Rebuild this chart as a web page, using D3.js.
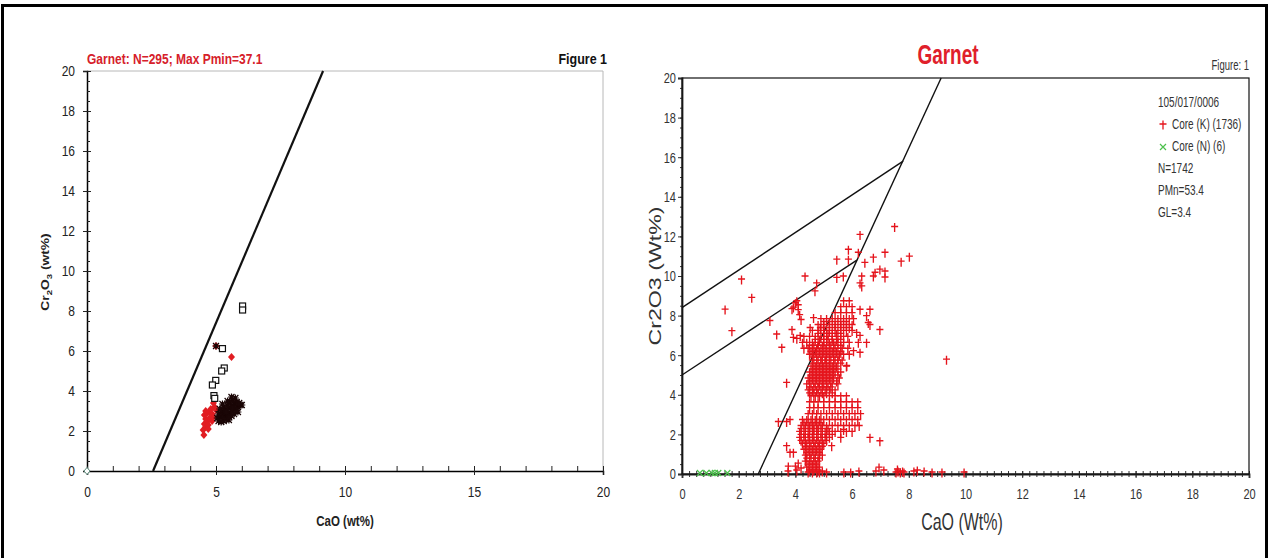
<!DOCTYPE html>
<html>
<head>
<meta charset="utf-8">
<script src="https://cdn.jsdelivr.net/npm/d3@7"></script>
<style>
body { margin: 0; background: #fff; }
svg { display: block; font-family: "Liberation Sans", Arial, sans-serif; }
</style>
</head>
<body>
<div id="chart"></div>
<script>
var width = 1270;
var height = 558;

// ---- left figure data ----
var leftTitle = 'Garnet: N=295; Max Pmin=37.1';
var leftLine = [[2.56, 0], [9.15, 20]];
var leftSquares = [[6.03, 8.25], [6.03, 8.05], [5.25, 6.12], [5.32, 5.15], [5.22, 5.0],
    [4.99, 4.53], [4.86, 4.3], [4.92, 3.77], [4.95, 3.63]];
var leftRed = [[4.53, 1.8], [4.5, 2.05], [4.6, 2.2], [4.55, 2.35], [4.65, 2.45], [4.7, 2.3],
    [4.6, 2.6], [4.75, 2.65], [4.55, 2.8], [4.65, 2.9], [4.75, 2.95], [4.85, 2.85], [4.8, 3.1],
    [4.95, 3.2], [4.9, 3.4], [5.0, 3.05], [4.85, 2.5], [4.9, 2.7], [4.7, 2.1], [4.6, 3.0],
    [5.6, 5.7], [5.0, 6.25]];
var leftBlack = [[5.1, 2.5], [5.2, 2.45], [5.3, 2.5], [5.4, 2.6], [5.5, 2.55], [5.15, 2.7],
    [5.25, 2.75], [5.35, 2.8], [5.45, 2.85], [5.55, 2.9], [5.65, 3.0], [5.75, 3.1], [5.85, 3.2],
    [5.95, 3.3], [5.2, 2.95], [5.3, 3.0], [5.4, 3.05], [5.5, 3.15], [5.6, 3.25], [5.7, 3.35],
    [5.8, 3.45], [5.3, 3.2], [5.45, 3.3], [5.55, 3.45], [5.65, 3.55], [5.75, 3.65], [5.6, 3.7],
    [5.1, 2.85], [5.05, 2.65], [5.35, 2.6], [5.6, 2.75], [5.7, 2.85], [5.85, 2.95], [6.0, 3.3],
    [5.9, 3.4], [5.45, 3.5], [5.25, 3.35], [5.15, 3.1], [5.5, 2.7], [5.65, 3.15], [5.4, 2.95],
    [5.8, 3.05], [5.0, 6.25]];
var leftGreen = [[0, 0]];

// ---- right figure data ----
var rightLines = [
    [[2.69, 0], [9.14, 20]],
    [[0, 8.4], [7.8, 15.8]],
    [[0, 5.0], [6.17, 10.8]]
];
var coreKScatter = [[7.5, 12.45], [6.28, 12.05], [5.87, 11.3], [6.22, 11.15], [5.46, 10.8],
    [5.87, 10.8], [6.75, 10.9], [7.16, 11.15], [8.02, 10.95], [7.73, 10.7], [7.16, 10.2],
    [6.98, 10.3], [7.16, 9.9], [6.75, 9.95], [6.34, 9.95], [6.28, 9.6], [6.34, 9.45], [5.69, 9.95],
    [5.46, 9.88], [4.34, 9.95], [4.75, 9.6], [4.69, 9.2], [2.1, 9.8], [2.46, 8.87], [1.52, 8.28],
    [1.76, 7.19], [3.1, 7.7], [3.34, 7.02], [3.52, 6.35], [3.69, 4.58], [3.93, 6.85], [4.05, 8.7],
    [4.1, 8.5], [4.1, 8.25], [4.15, 8.0], [4.2, 7.75], [4.0, 8.6], [3.88, 8.3], [3.93, 8.38],
    [4.64, 7.85], [4.88, 7.35], [4.52, 7.35], [3.88, 7.25], [4.17, 6.95], [4.05, 6.8],
    [6.45, 10.64], [6.81, 10.14], [6.28, 8.27], [6.63, 8.27], [6.51, 7.95], [6.57, 7.6],
    [6.63, 7.5], [6.98, 7.25], [6.16, 7.1], [6.28, 6.95], [6.22, 6.6], [6.51, 6.6], [6.28, 6.1],
    [6.05, 6.18], [5.81, 5.43], [9.33, 5.75], [6.63, 1.8], [6.98, 1.63], [5.28, 1.38], [5.7, 2.2],
    [3.4, 2.6], [3.69, 2.6], [3.81, 2.7], [3.69, 1.38], [3.81, 1.05], [3.93, 1.05], [3.75, 0.35],
    [4.0, 0.35], [4.1, 0.5], [3.74, 0.1], [4.05, 0.15], [4.2, 0.25], [4.95, 0.1], [5.1, 0.05],
    [5.71, 0.05], [5.95, 0.05], [6.24, 0.1], [6.84, 0.1], [6.95, 0.3], [7.12, 0.15], [7.55, 0.05],
    [7.62, 0.1], [7.7, 0.05], [7.78, 0.1], [7.83, 0.05], [7.6, 0.2], [8.18, 0.1], [8.3, 0.15],
    [8.54, 0.1], [8.82, 0.05], [9.17, 0.05], [9.95, 0.05]];
// dense core: [Cr2O3, [CaO values]]
var coreKRows = [
    [0.05, [4.45, 4.6, 4.75, 4.85]],
    [0.15, [4.5, 4.65, 4.8]],
    [0.3, [4.4, 4.55, 4.7, 4.85]],
    [0.45, [4.45, 4.6, 4.75]],
    [0.6, [4.35, 4.5, 4.65, 4.8]],
    [0.75, [4.4, 4.55, 4.7, 4.85]],
    [0.9, [4.35, 4.5, 4.65, 4.8, 4.95]],
    [1.05, [4.4, 4.55, 4.7, 4.85]],
    [1.2, [4.3, 4.45, 4.6, 4.75, 4.9]],
    [1.35, [4.35, 4.5, 4.65, 4.8, 4.95]],
    [1.5, [4.25, 4.4, 4.55, 4.7, 4.85, 5.0]],
    [1.65, [4.2, 4.35, 4.5, 4.65, 4.8, 4.95, 5.1]],
    [1.8, [4.15, 4.3, 4.45, 4.6, 4.75, 4.9, 5.05, 5.2, 5.6]],
    [1.95, [4.2, 4.35, 4.5, 4.65, 4.8, 4.95, 5.1, 5.3]],
    [2.1, [4.15, 4.3, 4.45, 4.6, 4.75, 4.9, 5.05, 5.2, 5.4, 5.6, 5.8, 6.0]],
    [2.25, [4.2, 4.35, 4.5, 4.65, 4.8, 4.95, 5.15]],
    [2.4, [4.2, 4.35, 4.5, 4.65, 4.8, 4.95, 5.1, 5.3, 5.5, 5.7, 5.9, 6.1, 6.25]],
    [2.55, [4.3, 4.45, 4.6, 4.75, 4.9]],
    [2.7, [4.25, 4.4, 4.55, 4.7, 4.85, 5.0, 5.2, 5.4, 5.6, 5.8, 6.0, 6.2]],
    [3.0, [4.45, 4.6, 4.75, 4.9, 5.1, 5.3, 5.5, 5.7, 5.9, 6.1, 6.3]],
    [3.3, [4.5, 4.65, 4.8, 5.0, 5.2, 5.4, 5.6, 5.8, 6.0, 6.2]],
    [3.6, [4.5, 4.65, 4.8, 5.0, 5.2, 5.4, 5.6, 5.8, 6.0, 6.2]],
    [3.9, [4.55, 4.7, 4.85, 5.0, 5.2, 5.4, 5.6, 5.8]],
    [4.05, [4.5, 4.65, 4.8, 4.95, 5.1, 5.3]],
    [4.2, [4.45, 4.6, 4.75, 4.9, 5.05, 5.2, 5.4]],
    [4.35, [4.5, 4.65, 4.8, 4.95, 5.1, 5.25]],
    [4.5, [4.4, 4.55, 4.7, 4.85, 5.0, 5.15, 5.3, 5.5]],
    [4.65, [4.5, 4.65, 4.8, 4.95, 5.1, 5.25, 5.45]],
    [4.8, [4.45, 4.6, 4.75, 4.9, 5.05, 5.2, 5.35, 5.55]],
    [4.95, [4.55, 4.7, 4.85, 5.0, 5.15, 5.3, 5.5]],
    [5.1, [4.5, 4.65, 4.8, 4.95, 5.1, 5.25, 5.4, 5.6]],
    [5.25, [4.6, 4.75, 4.9, 5.05, 5.2, 5.35, 5.5]],
    [5.4, [4.55, 4.7, 4.85, 5.0, 5.15, 5.3, 5.45, 5.8]],
    [5.55, [4.65, 4.8, 4.95, 5.1, 5.25, 5.4, 5.6]],
    [5.7, [4.6, 4.75, 4.9, 5.05, 5.2, 5.35, 5.5, 5.65]],
    [5.85, [4.6, 4.75, 4.9, 5.05, 5.2, 5.35, 5.5]],
    [6.0, [4.5, 4.65, 4.8, 4.95, 5.1, 5.25, 5.4, 5.55, 5.7, 5.9]],
    [6.15, [4.55, 4.7, 4.85, 5.0, 5.15, 5.3, 5.45, 5.6]],
    [6.3, [4.3, 4.45, 4.6, 4.75, 4.9, 5.05, 5.2, 5.35, 5.5, 5.65, 5.85]],
    [6.45, [4.5, 4.65, 4.8, 4.95, 5.1, 5.25, 5.4, 5.6]],
    [6.6, [4.25, 4.4, 4.6, 4.8, 5.0, 5.2, 5.35, 5.5, 5.7, 5.9]],
    [6.75, [4.7, 4.85, 5.0, 5.15, 5.3, 5.45, 5.6]],
    [6.9, [4.3, 4.5, 4.7, 4.9, 5.1, 5.3, 5.5, 5.7, 5.85]],
    [7.05, [4.8, 5.0, 5.15, 5.3, 5.45, 5.6]],
    [7.2, [4.6, 4.8, 5.0, 5.2, 5.4, 5.6, 5.8, 6.0]],
    [7.35, [4.9, 5.1, 5.3, 5.5, 5.7, 5.9]],
    [7.5, [4.8, 5.0, 5.2, 5.4, 5.6, 5.8, 6.0]],
    [7.65, [5.0, 5.2, 5.4, 5.6, 5.8]],
    [7.8, [4.9, 5.1, 5.3, 5.5, 5.7, 5.9, 6.05]],
    [8.1, [5.4, 5.6, 5.8, 6.0]],
    [8.4, [5.6, 5.8, 6.0]],
    [8.7, [5.7, 5.9]]
];
var coreN = [[0.63, 0.05], [0.86, 0.05], [1.05, 0.05], [1.16, 0.05], [1.28, 0.05], [1.6, 0.05]];
var legendTexts = ['105/017/0006', 'Core (K) (1736)', 'Core (N) (6)', 'N=1742', 'PMn=53.4', 'GL=3.4'];

var coreK = coreKScatter.concat(coreKRows.flatMap(r => r[1].map(c => [c, r[0]])));

var svg = d3.select('#chart').append('svg')
    .attr('width', width)
    .attr('height', height);

// outer frame
svg.append('rect')
    .attr('x', 2.5).attr('y', 5.5)
    .attr('width', 1264).attr('height', 620)
    .attr('fill', 'none').attr('stroke', '#000').attr('stroke-width', 3);

// stretch texts vertically (the source image is squashed horizontally)
var stretch = (sel, s) => {
    sel.each(function () {
        var t = d3.select(this);
        var x = +t.attr('x') || 0, y = +t.attr('y') || 0;
        t.attr('x', null).attr('y', null)
            .attr('transform', 'translate(' + x + ',' + y + ') scale(1,' + s + ')');
    });
};

// ================= LEFT FIGURE =================
var xL = d3.scaleLinear().domain([0, 20]).range([87, 603]);
var yL = d3.scaleLinear().domain([0, 20]).range([471, 71]);
var left = svg.append('g');

left.append('path')
    .attr('d', 'M' + xL(0) + ',' + yL(20) + 'H' + xL(20) + 'V' + yL(0))
    .attr('fill', 'none').attr('stroke', '#b8b8b8').attr('stroke-width', 1);

// y axis
var gLy = left.append('g').attr('transform', 'translate(' + xL(0) + ',0)')
    .call(d3.axisLeft(yL).tickValues(d3.range(0, 21, 2)).tickSize(4).tickPadding(8));
gLy.selectAll('.tick line').attr('x1', 4);
left.append('g').attr('transform', 'translate(' + xL(0) + ',0)')
    .call(d3.axisRight(yL).tickValues(d3.range(0, 20.01, 0.5)).tickSize(3).tickFormat(''))
    .select('.domain').remove();

// x axis
var gLx = left.append('g').attr('transform', 'translate(0,' + yL(0) + ')')
    .call(d3.axisBottom(xL).tickValues([0, 5, 10, 15, 20]).tickSize(4).tickPadding(12));
gLx.selectAll('.tick line').attr('y1', -4);
left.append('g').attr('transform', 'translate(0,' + yL(0) + ')')
    .call(d3.axisTop(xL).tickValues(d3.range(0, 20.01, 1)).tickSize(5).tickFormat(''))
    .select('.domain').remove();

left.selectAll('.domain').attr('stroke', '#000').attr('stroke-width', 1.5);
left.selectAll('.tick line').attr('stroke', '#222');
left.selectAll('.tick text').attr('font-size', 12).attr('fill', '#222')
    .attr('font-family', '"Liberation Sans", Arial, sans-serif');
stretch(left.selectAll('.tick text'), 1.2);

// reference line
left.append('line')
    .attr('x1', xL(leftLine[0][0])).attr('y1', yL(leftLine[0][1]))
    .attr('x2', xL(leftLine[1][0])).attr('y2', yL(leftLine[1][1]))
    .attr('stroke', '#111').attr('stroke-width', 2.2);

// points
left.selectAll('.red')
    .data(leftRed).enter().append('path')
    .attr('class', 'red')
    .attr('d', 'M0,-4L3.5,0L0,4L-3.5,0Z')
    .attr('transform', d => 'translate(' + xL(d[0]) + ',' + yL(d[1]) + ')')
    .attr('fill', '#e11d22');
left.selectAll('.black')
    .data(leftBlack).enter().append('path')
    .attr('class', 'black')
    .attr('d', 'M-3,-3L3,3M-3,3L3,-3M-3.5,0H3.5M0,-3.5V3.5')
    .attr('transform', d => 'translate(' + xL(d[0]) + ',' + yL(d[1]) + ')')
    .attr('stroke', '#1a0606').attr('stroke-width', 1.2);
left.selectAll('.sq')
    .data(leftSquares).enter().append('rect')
    .attr('class', 'sq')
    .attr('x', d => xL(d[0]) - 3).attr('y', d => yL(d[1]) - 3)
    .attr('width', 6).attr('height', 6)
    .attr('fill', '#fff').attr('stroke', '#111').attr('stroke-width', 1.2);
left.selectAll('.gr')
    .data(leftGreen).enter().append('path')
    .attr('class', 'gr')
    .attr('d', 'M0,-3.5L3,0L0,3.5L-3,0Z')
    .attr('transform', d => 'translate(' + xL(d[0]) + ',' + yL(d[1]) + ')')
    .attr('fill', '#fff').attr('stroke', '#5a8a7a').attr('stroke-width', 1);

// texts
var lt = left.append('g');
lt.append('text').attr('x', 87).attr('y', 64)
    .attr('font-size', 12).attr('font-weight', 'bold').attr('fill', '#d6202a')
    .text(leftTitle);
lt.append('text').attr('x', 607).attr('y', 64).attr('text-anchor', 'end')
    .attr('font-size', 12.5).attr('font-weight', 'bold').attr('fill', '#111')
    .text('Figure 1');
lt.append('text').attr('x', 345).attr('y', 526).attr('text-anchor', 'middle')
    .attr('font-size', 11.5).attr('font-weight', 'bold').attr('fill', '#222')
    .text('CaO (wt%)');
stretch(lt.selectAll('text'), 1.2);

var yLab = left.append('text')
    .attr('transform', 'translate(49,272) scale(1,1.2) rotate(-90)')
    .attr('text-anchor', 'middle')
    .attr('font-size', 11.5).attr('font-weight', 'bold').attr('fill', '#222');
yLab.append('tspan').text('Cr');
yLab.append('tspan').attr('font-size', 8).attr('dy', 3).text('2');
yLab.append('tspan').attr('dy', -3).text('O');
yLab.append('tspan').attr('font-size', 8).attr('dy', 3).text('3');
yLab.append('tspan').attr('dy', -3).text(' (wt%)');

// ================= RIGHT FIGURE =================
var xR = d3.scaleLinear().domain([0, 20]).range([682, 1249]);
var yR = d3.scaleLinear().domain([0, 20]).range([474, 78]);
var right = svg.append('g');

right.append('g').attr('transform', 'translate(' + xR(0) + ',0)')
    .call(d3.axisLeft(yR).tickValues(d3.range(0, 21, 2)).tickSize(4).tickPadding(2));
right.append('g').attr('transform', 'translate(' + xR(0) + ',0)')
    .call(d3.axisLeft(yR).tickValues(d3.range(0, 20.01, 0.5)).tickSize(2).tickFormat(''))
    .select('.domain').remove();
var gRx = right.append('g').attr('transform', 'translate(0,' + yR(0) + ')')
    .call(d3.axisBottom(xR).tickValues(d3.range(0, 21, 2)).tickSize(4).tickPadding(10));
gRx.selectAll('.tick line').attr('y1', -3);
var gRxm = right.append('g').attr('transform', 'translate(0,' + yR(0) + ')')
    .call(d3.axisBottom(xR).tickValues(d3.range(0, 20.01, 0.25)).tickSize(3).tickFormat(''));
gRxm.selectAll('.tick line').attr('y1', -3);
gRxm.select('.domain').remove();

right.selectAll('.domain').attr('stroke', '#222').attr('stroke-width', 1.8);
right.selectAll('.tick line').attr('stroke', '#333');
right.selectAll('.tick text').attr('font-size', 11).attr('fill', '#333')
    .attr('font-family', '"Liberation Sans", Arial, sans-serif');
stretch(right.selectAll('.tick text'), 1.4);

right.append('rect')
    .attr('x', xR(0)).attr('y', yR(20))
    .attr('width', xR(20) - xR(0)).attr('height', yR(0) - yR(20))
    .attr('fill', 'none').attr('stroke', '#111').attr('stroke-width', 1.2);

// boundary lines
right.selectAll('.bline')
    .data(rightLines).enter().append('line')
    .attr('class', 'bline')
    .attr('x1', d => xR(d[0][0])).attr('y1', d => yR(d[0][1]))
    .attr('x2', d => xR(d[1][0])).attr('y2', d => yR(d[1][1]))
    .attr('stroke', '#111').attr('stroke-width', 1.4);

// points
var plus = 'M-3.5,-1H3.5M0,-4.5V4.5';
var cross = 'M-3,-3L3,3M-3,3L3,-3';
right.selectAll('.k')
    .data(coreK).enter().append('path')
    .attr('class', 'k')
    .attr('d', plus)
    .attr('transform', d => 'translate(' + xR(d[0]) + ',' + yR(d[1]) + ')')
    .attr('stroke', '#e5141c').attr('stroke-width', 1.35).attr('fill', 'none');
right.selectAll('.n')
    .data(coreN).enter().append('path')
    .attr('class', 'n')
    .attr('d', cross)
    .attr('transform', d => 'translate(' + xR(d[0]) + ',' + yR(d[1]) + ')')
    .attr('stroke', '#4cc04c').attr('stroke-width', 1.2).attr('fill', 'none');

// legend
var legY = [103, 125, 147, 169, 191, 213];
var leg = right.append('g');
legendTexts.forEach((t, i) => {
    var x = (i === 1 || i === 2) ? 1172 : 1158;
    leg.append('text').attr('x', x).attr('y', legY[i] + 3.5)
        .attr('font-size', 10).attr('fill', '#333').text(t);
});
leg.append('path').attr('d', plus)
    .attr('transform', 'translate(1163,' + legY[1] + ')')
    .attr('stroke', '#e5141c').attr('stroke-width', 1.3);
leg.append('path').attr('d', cross)
    .attr('transform', 'translate(1163,' + legY[2] + ')')
    .attr('stroke', '#4cc04c').attr('stroke-width', 1.2);
stretch(leg.selectAll('text'), 1.4);

// titles
var rt = right.append('g');
rt.append('text').attr('x', 948).attr('y', 64).attr('text-anchor', 'middle')
    .attr('font-size', 19).attr('font-weight', 'bold').attr('fill', '#e0202a')
    .text('Garnet');
rt.append('text').attr('x', 1249).attr('y', 70).attr('text-anchor', 'end')
    .attr('font-size', 9.5).attr('fill', '#333')
    .text('Figure: 1');
rt.append('text').attr('x', 962).attr('y', 530).attr('text-anchor', 'middle')
    .attr('font-size', 16).attr('fill', '#333')
    .text('CaO (Wt%)');
stretch(rt.selectAll('text'), 1.45);
rt.append('text')
    .attr('transform', 'translate(661,276) scale(1,1.45) rotate(-90)')
    .attr('text-anchor', 'middle')
    .attr('font-size', 16).attr('fill', '#333')
    .text('Cr2O3 (Wt%)');
</script>
</body>
</html>
